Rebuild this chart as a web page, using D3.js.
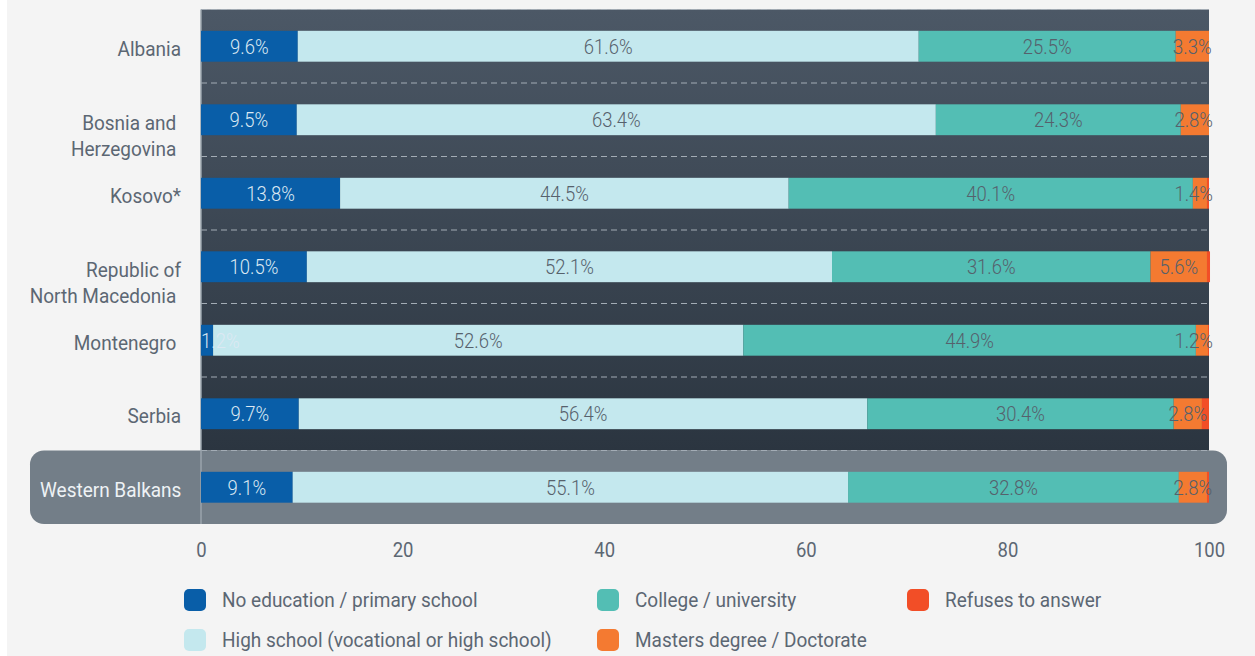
<!DOCTYPE html>
<html><head><meta charset="utf-8">
<script src="https://cdn.jsdelivr.net/npm/d3@7"></script>
<style>
html,body{margin:0;padding:0;background:#fff;}
svg{display:block;font-family:"Roboto","Liberation Sans",sans-serif;}
</style></head>
<body>
<svg id="chart" width="1255" height="656"></svg>
<script>
const categories = ["Albania", "Bosnia and |Herzegovina ", "Kosovo*", "Republic of|North Macedonia ", "Montenegro ", "Serbia", "Western Balkans"];
const seriesNames = ["No education / primary school", "High school (vocational or high school)", "College / university", "Masters degree / Doctorate", "Refuses to answer"];
const noEducation = [9.6, 9.5, 13.8, 10.5, 1.2, 9.7, 9.1];
const highSchool = [61.6, 63.4, 44.5, 52.1, 52.6, 56.4, 55.1];
const college = [25.5, 24.3, 40.1, 31.6, 44.9, 30.4, 32.8];
const masters = [3.3, 2.8, 1.4, 5.6, 1.2, 2.8, 2.8];
const refuses = [0, 0, 0.2, 0.3, 0.1, 0.7, 0.2];
const xTicks = [0, 20, 40, 60, 80, 100];
const colors = ["#095ea8", "#c4e8ee", "#53beb4", "#f47a31", "#f24e27"];
const labelColors = ["#dce9f3", "#56616c", "#56616c", "#56616c", null];

const S = 0.88;
const S2 = 0.905;
const svg = d3.select("#chart");
const W = 1255, H = 656;
svg.append("rect").attr("x", 7).attr("y", 0).attr("width", W - 7).attr("height", H).attr("fill", "#f4f4f4");

function ctext(parent, px, py, str, anchor, size, fill, weight, sc) {
  sc = sc || S;
  return parent.append("text")
    .attr("transform", `translate(${px},${py}) scale(${sc},1)`)
    .attr("text-anchor", anchor).attr("dominant-baseline", "central")
    .attr("font-size", size).attr("font-weight", weight || 400)
    .attr("fill", fill).style("white-space", "pre").text(str);
}

const x = d3.scaleLinear().domain([0, 100]).range([201, 1209]);
const y = d3.scaleBand().domain(categories).range([9.5, 524]).paddingInner(0.58).paddingOuter(0.29);

const defs = svg.append("defs");
const grad = defs.append("linearGradient").attr("id", "bg").attr("x1", 0).attr("y1", 0).attr("x2", 0).attr("y2", 1);
grad.append("stop").attr("offset", "0%").attr("stop-color", "#4c5866");
grad.append("stop").attr("offset", "100%").attr("stop-color", "#2b3540");

const plotTop = y.range()[0];
const lastCat = categories[categories.length - 1];
const wbTop = y(lastCat) - y.step() * y.paddingInner() / 2;
svg.append("rect").attr("x", x(0)).attr("y", plotTop).attr("width", x(100) - x(0)).attr("height", wbTop - plotTop).attr("fill", "url(#bg)");
svg.append("rect").attr("x", 30).attr("y", wbTop).attr("width", 1227 - 30).attr("height", y.range()[1] - wbTop)
  .attr("rx", 14).attr("fill", "#737e88");

const seps = [plotTop].concat(categories.slice(1).map(c => y(c) - y.step() * y.paddingInner() / 2));
svg.append("g").selectAll("line").data(seps).join("line")
  .attr("x1", x(0)).attr("x2", x(100)).attr("y1", d => d).attr("y2", d => d)
  .attr("stroke", "#a3acb5").attr("stroke-width", 1).attr("stroke-dasharray", "6,4");

svg.append("line").attr("x1", x(0)).attr("x2", x(0)).attr("y1", plotTop).attr("y2", y.range()[1])
  .attr("stroke", "#9aa4ad").attr("stroke-width", 1.5);

const rows = categories.map((c, i) => ({cat: c, vals: [noEducation[i], highSchool[i], college[i], masters[i], refuses[i]]}));
const stacked = d3.stack().keys([0, 1, 2, 3, 4]).value((d, k) => d.vals[k])(rows);

const gBars = svg.append("g");
stacked.forEach((layer, k) => {
  gBars.append("g").selectAll("rect").data(layer).join("rect")
    .attr("x", d => x(d[0])).attr("y", d => y(d.data.cat))
    .attr("width", d => Math.max(0, x(d[1]) - x(d[0]))).attr("height", y.bandwidth())
    .attr("fill", colors[k]);
});
const gLab = svg.append("g");
stacked.forEach((layer, k) => {
  if (!labelColors[k]) return;
  layer.forEach(d => {
    const cy = y(d.data.cat) + y.bandwidth() / 2 + 0.5;
    let cx = (x(d[0]) + x(d[1])) / 2;
    const t = ctext(gLab, cx, cy, d.data.vals[k].toFixed(1) + "%", "middle", 21, labelColors[k], 300);
    const w = t.node().getComputedTextLength() * S;
    if (cx - w / 2 < x(0)) cx = x(0) + w / 2;
    if (cx + w / 2 > x(100) + 4) cx = x(100) + 4 - w / 2;
    t.attr("transform", `translate(${cx},${cy}) scale(${S},1)`);
  });
});

const gCat = svg.append("g");
categories.forEach((c, i) => {
  const isWB = i === categories.length - 1;
  const lines = c.split("|");
  const cy = y(c) + y.bandwidth() / 2;
  lines.forEach((ln, j) => {
    ctext(gCat, isWB ? 40 : 181, cy + (lines.length > 1 ? 3 : 2) + j * 26, ln,
      isWB ? "start" : "end", 21, isWB ? "#eef2f5" : "#5c6773", 400, S2);
  });
});

const axis = svg.append("g").attr("transform", `translate(0,${y.range()[1]})`)
  .call(d3.axisBottom(x).tickValues(xTicks).tickSize(0).tickPadding(18).tickFormat(d3.format("d")));
axis.select(".domain").remove();
axis.selectAll("text").attr("font-size", 21).attr("fill", "#5c6773").attr("font-family", "Roboto")
  .attr("transform", `scale(${S},1)`);

const legendPos = [[184, 600], [184, 640], [597, 600], [597, 640], [907, 600]];
const lg = svg.append("g");
seriesNames.forEach((n, i) => {
  const [lx, ly] = legendPos[i];
  lg.append("rect").attr("x", lx).attr("y", ly - 11).attr("width", 22).attr("height", 22).attr("rx", 5).attr("fill", colors[i]);
  ctext(lg, lx + 38, ly, n, "start", 21, "#5c6773", 400, S2);
});
</script>
</body></html>
